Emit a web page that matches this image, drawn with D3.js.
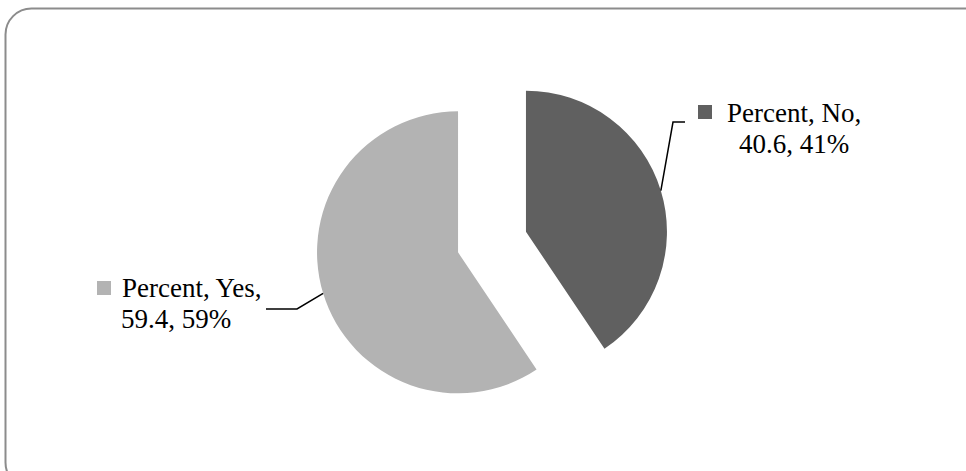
<!DOCTYPE html>
<html>
<head>
<meta charset="utf-8">
<script src="https://cdn.jsdelivr.net/npm/d3@7/dist/d3.min.js"></script>
<style>
  html, body { margin: 0; padding: 0; background: #ffffff; }
  svg { display: block; }
</style>
</head>
<body>
<svg id="chart" width="966" height="471"></svg>
<script>
// Survey answers, share of respondents (%)
const seriesName = "Percent";
const categories = ["No", "Yes"];
const values = [40.6, 59.4];
const colors = ["#606060", "#b3b3b3"];

const W = 966, H = 471;
const svg = d3.select("#chart");
const font = "'Liberation Serif', 'Times New Roman', serif";
const fontSize = 27;

// Rounded frame around the chart area
svg.append("rect")
  .attr("x", 5.5).attr("y", 8.5)
  .attr("width", 990).attr("height", 480)
  .attr("rx", 26).attr("ry", 26)
  .attr("fill", "#ffffff")
  .attr("stroke", "#8c8c8c")
  .attr("stroke-width", 2);

const cx = 492, cy = 242, radius = 141, explode = 35.5;

const pie = d3.pie().sort(null).value(d => d.value);
const arc = d3.arc().innerRadius(0).outerRadius(radius);

const data = categories.map((c, i) => ({ category: c, value: values[i], color: colors[i] }));
const arcs = pie(data);

const g = svg.append("g").attr("transform", `translate(${cx},${cy})`);

// Offset each slice outward along its mid-angle
function shift(d) {
  const a = (d.startAngle + d.endAngle) / 2;
  return [Math.sin(a) * explode, -Math.cos(a) * explode];
}

g.selectAll("path.slice")
  .data(arcs)
  .join("path")
  .attr("class", "slice")
  .attr("d", arc)
  .attr("fill", d => d.data.color)
  .attr("transform", d => `translate(${shift(d)})`);

// Label layout: elbow of leader, end of leader, key box, text lines
const labelLayout = {
  No:  { elbow: [673, 122], end: [685, 122], key: [698, 105], line1: [727, 122, "start"], line2: [794, 153, "middle"] },
  Yes: { elbow: [297, 309], end: [266, 309], key: [97, 281], line1: [122, 297, "start"], line2: [121, 328, "start"] }
};

const fmtPct = v => Math.round(v) + "%";

arcs.forEach(d => {
  const L = labelLayout[d.data.category];
  const a = (d.startAngle + d.endAngle) / 2;
  const [sx, sy] = shift(d);
  const start = [cx + sx + Math.sin(a) * radius, cy + sy - Math.cos(a) * radius];

  svg.append("path")
    .attr("d", d3.line()([start, L.elbow, L.end]))
    .attr("fill", "none")
    .attr("stroke", "#000000")
    .attr("stroke-width", 1.5);

  svg.append("rect")
    .attr("x", L.key[0]).attr("y", L.key[1])
    .attr("width", 14).attr("height", 14)
    .attr("fill", d.data.color);

  svg.append("text")
    .attr("x", L.line1[0]).attr("y", L.line1[1])
    .attr("text-anchor", L.line1[2])
    .attr("font-family", font).attr("font-size", fontSize)
    .attr("fill", "#000000")
    .text(`${seriesName}, ${d.data.category},`);

  svg.append("text")
    .attr("x", L.line2[0]).attr("y", L.line2[1])
    .attr("text-anchor", L.line2[2])
    .attr("font-family", font).attr("font-size", fontSize)
    .attr("fill", "#000000")
    .text(`${d.data.value}, ${fmtPct(d.data.value)}`);
});
</script>
</body>
</html>
